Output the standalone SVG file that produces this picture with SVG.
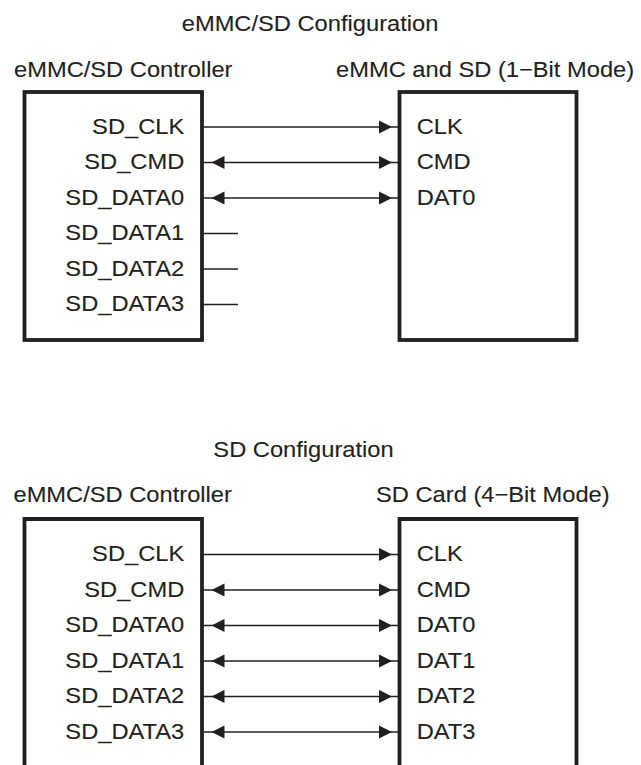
<svg xmlns="http://www.w3.org/2000/svg" width="641" height="765" viewBox="0 0 641 765">
<style>
  text { font-family: "Liberation Sans", Arial, sans-serif; font-size: 22.5px; fill: #231f20; stroke: #231f20; stroke-width: 0.12; }
  .lbl { text-anchor: end; }
  .box { fill: none; stroke: #231f20; stroke-width: 3.8; }
  .wire { stroke: #231f20; stroke-width: 1.5; fill: none; }
  .head { fill: #231f20; stroke: none; }
</style>
<defs>
  <marker id="arrowEnd" markerUnits="userSpaceOnUse" markerWidth="22" markerHeight="14" refX="20.5" refY="6.6" orient="0">
    <path class="head" d="M0,0 L13,6.6 L0,13.2 Z"/>
  </marker>
  <marker id="arrowStart" markerUnits="userSpaceOnUse" markerWidth="14" markerHeight="14" refX="-9.5" refY="6.6" orient="0">
    <path class="head" d="M13,0 L0,6.6 L13,13.2 Z"/>
  </marker>
</defs>

<g id="connectors">
  <line class="wire" x1="202" y1="127" x2="399.5" y2="127" marker-end="url(#arrowEnd)"/>
  <line class="wire" x1="202" y1="162.5" x2="399.5" y2="162.5" marker-start="url(#arrowStart)" marker-end="url(#arrowEnd)"/>
  <line class="wire" x1="202" y1="198" x2="399.5" y2="198" marker-start="url(#arrowStart)" marker-end="url(#arrowEnd)"/>
  <line class="wire" x1="202" y1="233.5" x2="238" y2="233.5"/>
  <line class="wire" x1="202" y1="269" x2="238" y2="269"/>
  <line class="wire" x1="202" y1="304.5" x2="238" y2="304.5"/>
  <line class="wire" x1="202" y1="554.5" x2="399.5" y2="554.5" marker-end="url(#arrowEnd)"/>
  <line class="wire" x1="202" y1="590" x2="399.5" y2="590" marker-start="url(#arrowStart)" marker-end="url(#arrowEnd)"/>
  <line class="wire" x1="202" y1="625.5" x2="399.5" y2="625.5" marker-start="url(#arrowStart)" marker-end="url(#arrowEnd)"/>
  <line class="wire" x1="202" y1="661" x2="399.5" y2="661" marker-start="url(#arrowStart)" marker-end="url(#arrowEnd)"/>
  <line class="wire" x1="202" y1="696.5" x2="399.5" y2="696.5" marker-start="url(#arrowStart)" marker-end="url(#arrowEnd)"/>
  <line class="wire" x1="202" y1="732" x2="399.5" y2="732" marker-start="url(#arrowStart)" marker-end="url(#arrowEnd)"/>
</g>

<g id="controller1">
  <rect class="box" x="24.5" y="92" width="177.5" height="248"/>
  <g transform="scale(1.053 1)">
    <text x="13.3" y="77">eMMC/SD Controller</text>
    <text class="lbl" x="175" y="134">SD_CLK</text>
    <text class="lbl" x="175" y="169.5">SD_CMD</text>
    <text class="lbl" x="175" y="205">SD_DATA0</text>
    <text class="lbl" x="175" y="240.5">SD_DATA1</text>
    <text class="lbl" x="175" y="276">SD_DATA2</text>
    <text class="lbl" x="175" y="311.5">SD_DATA3</text>
  </g>
</g>

<g id="card1">
  <rect class="box" x="399.5" y="92" width="177" height="248"/>
  <g transform="scale(1.053 1)">
    <text x="319.1" y="77">eMMC and SD (1−Bit Mode)</text>
    <text x="395.7" y="134">CLK</text>
    <text x="395.7" y="169.5">CMD</text>
    <text x="395.7" y="205">DAT0</text>
  </g>
</g>

<g id="title1">
  <text transform="scale(1.053 1)" x="172.6" y="31.5">eMMC/SD Configuration</text>
</g>

<g id="title2">
  <text transform="scale(1.053 1)" x="202.6" y="457">SD Configuration</text>
</g>

<g id="controller2">
  <path class="box" d="M24.5,800 V519 H202 V800"/>
  <g transform="scale(1.053 1)">
    <text x="12.8" y="502.5">eMMC/SD Controller</text>
    <text class="lbl" x="175" y="561.5">SD_CLK</text>
    <text class="lbl" x="175" y="597">SD_CMD</text>
    <text class="lbl" x="175" y="632.5">SD_DATA0</text>
    <text class="lbl" x="175" y="668">SD_DATA1</text>
    <text class="lbl" x="175" y="703.5">SD_DATA2</text>
    <text class="lbl" x="175" y="739">SD_DATA3</text>
  </g>
</g>

<g id="card2">
  <path class="box" d="M399.5,800 V519 H576.5 V800"/>
  <g transform="scale(1.053 1)">
    <text x="357.1" y="502.5">SD Card (4−Bit Mode)</text>
    <text x="395.7" y="561.5">CLK</text>
    <text x="395.7" y="597">CMD</text>
    <text x="395.7" y="632.5">DAT0</text>
    <text x="395.7" y="668">DAT1</text>
    <text x="395.7" y="703.5">DAT2</text>
    <text x="395.7" y="739">DAT3</text>
  </g>
</g>
</svg>
